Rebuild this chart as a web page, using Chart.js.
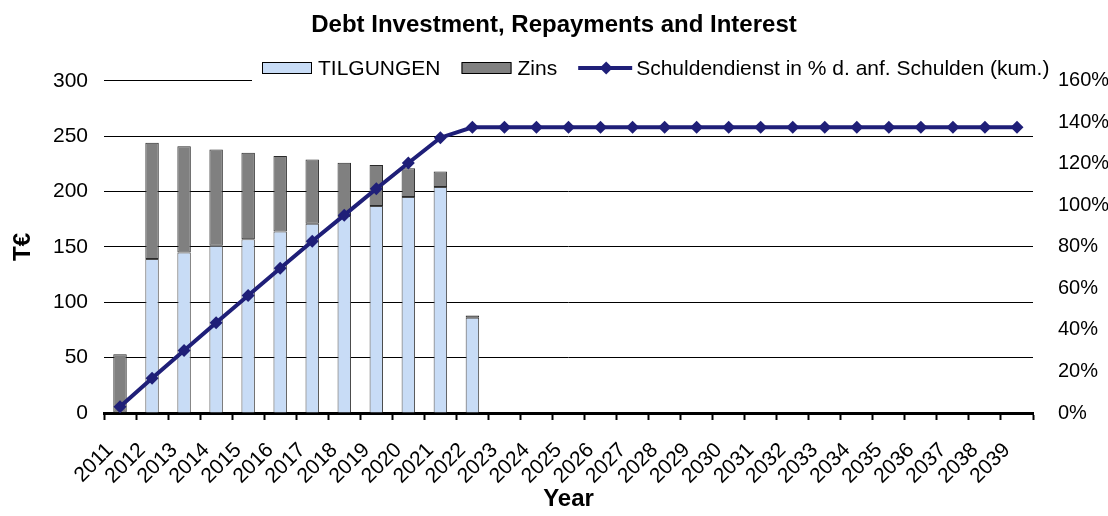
<!DOCTYPE html>
<html>
<head>
<meta charset="utf-8">
<title>Debt Investment, Repayments and Interest</title>
<script src="https://cdn.jsdelivr.net/npm/chart.js@4.4.1/dist/chart.umd.min.js"></script>
<style>
    html, body { margin: 0; padding: 0; background: #ffffff; }
    #wrap { width: 1108px; height: 516px; }
</style>
</head>
<body>
<div id="wrap"><canvas id="debtChart" width="1108" height="516"></canvas></div>
<script>
// Chart data
const years = ['2011', '2012', '2013', '2014', '2015', '2016', '2017', '2018', '2019', '2020',
               '2021', '2022', '2023', '2024', '2025', '2026', '2027', '2028', '2029', '2030',
               '2031', '2032', '2033', '2034', '2035', '2036', '2037', '2038', '2039'];

// T€, left axis
const tilgungen = [0, 139, 145, 151, 157, 164, 171, 178, 187, 195, 204, 86,
                   null, null, null, null, null, null, null, null, null, null, null, null, null, null, null, null, null];
const zins = [53, 105, 96, 87, 78, 68, 58, 48, 37, 26, 14, 2,
              null, null, null, null, null, null, null, null, null, null, null, null, null, null, null, null, null];

// % of initial debt, cumulative, right axis
const schuldendienst = [3.0, 16.7, 30.1, 43.5, 56.6, 69.7, 82.7, 95.3, 108.0, 120.4, 132.6, 137.6,
                        137.6, 137.6, 137.6, 137.6, 137.6, 137.6, 137.6, 137.6, 137.6, 137.6, 137.6,
                        137.6, 137.6, 137.6, 137.6, 137.6, 137.6];

// Tick values
const leftTicks = [0, 50, 100, 150, 200, 250, 300];
const rightTicks = [0, 20, 40, 60, 80, 100, 120, 140, 160];

const colors = {
    tilgung: '#C8DCF6',
    tilgungBorder: '#4a4a4a',
    zins: '#808080',
    zinsBorder: '#2a2a2a',
    line: '#1F1F78'
};

const fontFamily = "'Liberation Sans', Arial, Helvetica, sans-serif";
Chart.defaults.font.family = fontFamily;
Chart.defaults.color = '#000';

// Excel-style legend with a white box sitting over the top gridline
const excelLegend = {
    id: 'excelLegend',
    beforeDatasetsDraw(chart) {
        const ctx = chart.ctx;
        const area = chart.chartArea;
        ctx.save();
        ctx.fillStyle = '#ffffff';
        ctx.fillRect(252, 56, area.right - 252 + 2, 29);
        ctx.restore();
    },
    afterDraw(chart) {
        const ctx = chart.ctx;
        const sets = chart.data.datasets;
        const order = [1, 2, 0]; // TILGUNGEN, Zins, line
        let x = 262;
        const baseY = 75;
        ctx.save();
        ctx.font = '21px ' + fontFamily;
        ctx.textBaseline = 'alphabetic';
        order.forEach(i => {
            const ds = sets[i];
            if (ds.type === 'line') {
                ctx.strokeStyle = ds.borderColor;
                ctx.lineWidth = 4;
                ctx.beginPath();
                ctx.moveTo(x, 68);
                ctx.lineTo(x + 54, 68);
                ctx.stroke();
                const cx = x + 28;
                ctx.fillStyle = ds.borderColor;
                ctx.beginPath();
                ctx.moveTo(cx, 61.5);
                ctx.lineTo(cx + 6.5, 68);
                ctx.lineTo(cx, 74.5);
                ctx.lineTo(cx - 6.5, 68);
                ctx.closePath();
                ctx.fill();
                x += 58;
            } else {
                ctx.fillStyle = ds.backgroundColor;
                ctx.fillRect(x, 62.5, 50, 11);
                ctx.strokeStyle = '#000';
                ctx.lineWidth = 1;
                ctx.strokeRect(x + 0.5, 62.5, 49, 11);
                x += 56;
            }
            ctx.fillStyle = '#000';
            ctx.fillText(ds.label, x, baseY);
            x += ctx.measureText(ds.label).width + 21;
        });
        ctx.restore();
    }
};

new Chart(document.getElementById('debtChart'), {
    data: {
        labels: years,
        datasets: [
            {
                type: 'line',
                label: 'Schuldendienst in % d. anf. Schulden (kum.)',
                data: schuldendienst,
                yAxisID: 'y1',
                borderColor: colors.line,
                backgroundColor: colors.line,
                borderWidth: 4,
                tension: 0,
                pointStyle: 'rectRot',
                pointRadius: 6.5,
                pointBorderWidth: 0,
                pointBackgroundColor: colors.line,
                order: 0
            },
            {
                type: 'bar',
                label: 'TILGUNGEN',
                data: tilgungen,
                yAxisID: 'y',
                stack: 'debt',
                backgroundColor: colors.tilgung,
                borderColor: colors.tilgungBorder,
                borderWidth: 1,
                barPercentage: 0.42,
                categoryPercentage: 1,
                order: 1
            },
            {
                type: 'bar',
                label: 'Zins',
                data: zins,
                yAxisID: 'y',
                stack: 'debt',
                backgroundColor: colors.zins,
                borderColor: colors.zinsBorder,
                borderWidth: 1,
                borderSkipped: false,
                barPercentage: 0.42,
                categoryPercentage: 1,
                order: 1
            }
        ]
    },
    options: {
        responsive: false,
        animation: false,
        devicePixelRatio: 1,
        layout: { padding: 0 },
        plugins: {
            legend: { display: false },
            tooltip: { enabled: false },
            title: {
                display: true,
                text: 'Debt Investment, Repayments and Interest',
                color: '#000',
                font: { size: 24, weight: 'bold' },
                padding: { top: 11, bottom: 41 }
            }
        },
        scales: {
            x: {
                stacked: true,
                offset: true,
                afterFit: s => { s.height = 103; },
                grid: {
                    display: true,
                    drawOnChartArea: false,
                    drawTicks: true,
                    tickLength: 7,
                    tickWidth: 2,
                    color: '#000',
                    offset: true
                },
                border: { display: true, color: '#000', width: 3 },
                ticks: {
                    autoSkip: false,
                    maxRotation: 45,
                    minRotation: 45,
                    padding: 18,
                    labelOffset: -10,
                    font: { size: 21 }
                },
                title: {
                    display: true,
                    text: 'Year',
                    font: { size: 24, weight: 'bold' },
                    padding: { top: 0, bottom: 2 }
                }
            },
            y: {
                position: 'left',
                stacked: true,
                min: 0,
                max: 300,
                afterFit: s => { s.width = 104; },
                afterBuildTicks: s => { s.ticks = leftTicks.map(v => ({ value: v })); },
                grid: {
                    color: '#000',
                    lineWidth: 1,
                    drawTicks: false
                },
                border: { display: false },
                ticks: {
                    padding: 16,
                    font: { size: 21 }
                },
                title: {
                    display: true,
                    text: 'T€',
                    font: { size: 24, weight: 'bold' },
                    padding: { top: 9, bottom: 0 }
                }
            },
            y1: {
                position: 'right',
                min: 0,
                max: 160,
                afterFit: s => { s.width = 75; },
                afterBuildTicks: s => { s.ticks = rightTicks.map(v => ({ value: v })); },
                grid: { display: false },
                border: { display: false },
                ticks: {
                    padding: 17,
                    font: { size: 20 },
                    callback: v => v + '%'
                }
            }
        }
    },
    plugins: [excelLegend]
});
</script>
</body>
</html>
